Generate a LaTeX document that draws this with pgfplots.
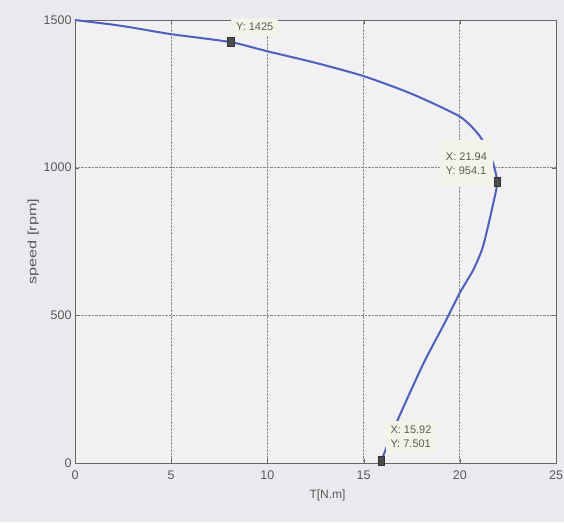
\documentclass[border=0pt]{standalone}
\usepackage{pgfplots}
\pgfplotsset{compat=1.18}
\usepackage{fontspec}
\setmainfont{Liberation Sans}
\definecolor{pagebg}{HTML}{EAE9ED}
\definecolor{plotbg}{HTML}{F1F0F3}
\definecolor{curve}{HTML}{4F5FBF}
\definecolor{tipbg}{HTML}{F4F3E8}
\definecolor{tiptext}{HTML}{5A5A5A}
\definecolor{gridc}{HTML}{8A8A8A}

\begin{document}
\begin{tikzpicture}
\fill[pagebg] (-75pt,-59pt) rectangle (489pt,463pt);
\useasboundingbox (-75pt,-59pt) rectangle (489pt,463pt);
\begin{axis}[
  scale only axis,
  width=481pt, height=443pt,
  xmin=0, xmax=25, ymin=0, ymax=1500,
  xtick={0,5,...,25}, ytick={0,500,1000,1500},
  grid=major,
  major grid style={gridc, densely dotted, line width=0.7pt},
  axis background/.style={fill=plotbg},
  axis line style={gray!80!black, line width=0.6pt},
  tick style={gray!80!black},
  tick align=inside,
  ticklabel style={font=\fontsize{12.5}{14}\selectfont, text=gray!70!black},
  xticklabel style={yshift=-4pt},
  /pgf/number format/assume math mode=true,
  /pgf/number format/set thousands separator={},
  xlabel={T[N.m]},
  ylabel={\scalebox{1.35}[1]{speed [rpm]}},
  label style={font=\fontsize{12}{14}\selectfont, text=gray!70!black},
  xlabel style={yshift=-4pt, xshift=12pt},
  ylabel style={yshift=-2pt},
  clip=false,
]
% torque-speed characteristic
\addplot[curve, line width=2pt, smooth, tension=0.4] coordinates {
  (0,1500) (1,1492) (2,1484) (3,1474) (5,1452) (8.1,1425) (10,1394)
  (12.5,1355) (15,1310) (17.5,1250) (20,1173) (21,1110) (21.6,1040)
  (21.94,954.1) (21.7,868) (21.2,732) (20.7,654) (20.0,576) (19.3,485)
  (18.2,349) (17.4,237) (16.6,120) (15.92,7.501)
};
% data tips
\node[fill=tipbg, text=tiptext, font=\fontsize{11}{14}\selectfont, inner sep=5pt,
      anchor=south west] at (axis cs:8.1,1425) [xshift=0pt, yshift=6pt] {Y: 1425};
\node[fill=tipbg, text=tiptext, font=\fontsize{11}{14}\selectfont, inner xsep=6pt,
      inner ysep=12pt, align=left, anchor=east] at (axis cs:21.94,954.1)
      [xshift=-4pt, yshift=18pt] {X: 21.94\\Y: 954.1};
\node[fill=tipbg, text=tiptext, font=\fontsize{11}{14}\selectfont, inner sep=5pt,
      align=left, anchor=south west] at (axis cs:15.92,7.501) [xshift=4pt, yshift=8pt] {X: 15.92\\Y: 7.501};
\addplot[only marks, mark=square*, mark size=4.5pt,
         mark options={fill=black!70, draw=black!80, xscale=0.75}]
  coordinates {(8.1,1425) (21.94,954.1) (15.92,7.501)};
\end{axis}
\end{tikzpicture}
\end{document}
